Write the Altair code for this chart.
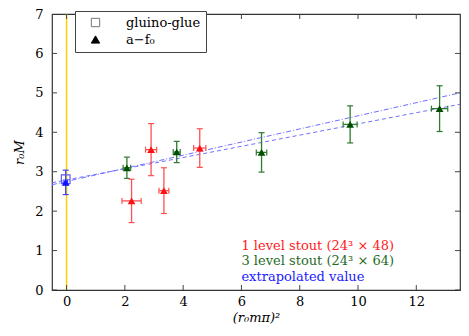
import altair as alt
import pandas as pd

# ---- data ----
red_x = [2.23, 2.90, 3.34, 4.57]
red_xerr = [0.33, 0.19, 0.17, 0.21]
red_y = [2.26, 3.56, 2.52, 3.60]
red_yerr = [0.55, 0.66, 0.58, 0.49]

green_x = [2.07, 3.78, 6.69, 9.73, 12.80]
green_xerr = [0.13, 0.12, 0.18, 0.24, 0.28]
green_y = [3.10, 3.50, 3.49, 4.20, 4.60]
green_yerr = [0.27, 0.27, 0.50, 0.47, 0.58]

blue_x = [-0.03]
blue_xerr = [0.06]
blue_y = [2.73]
blue_yerr = [0.31]

glue_x = [-0.03]
glue_y = [2.81]

fit_x = [-0.5, 13.5]
fit1_y = [2.67, 5.00]
fit2_y = [2.72, 4.71]

x_ticks = [0, 2, 4, 6, 8, 10, 12]
y_ticks = [0, 1, 2, 3, 4, 5, 6, 7]
x_dom = [-0.5, 13.5]
y_dom = [0, 7]

ann_text = ["1 level stout (24³ × 48)", "3 level stout (24³ × 64)", "extrapolated value"]
ann_color = ["#ff2020", "#1f6b1f", "#2020ff"]
ann_x = [6.0, 6.0, 6.0]
ann_y = [1.11, 0.74, 0.33]

legend_labels = ["gluino-glue", "a−f₀"]

FONT = "DejaVu Serif"

# ---- tables ----
rows = []
for xs, xe, ys, ye, mc, bc in [
    (red_x, red_xerr, red_y, red_yerr, "#ff1010", "#ff5050"),
    (green_x, green_xerr, green_y, green_yerr, "#004d00", "#2f7a2f"),
    (blue_x, blue_xerr, blue_y, blue_yerr, "#1010ff", "#4040ff"),
]:
    for x, dx, y, dy in zip(xs, xe, ys, ye):
        rows.append(dict(x=x, y=y, xlo=x - dx, xhi=x + dx, ylo=y - dy, yhi=y + dy,
                         mcol=mc, bcol=bc))
tri = pd.DataFrame(rows)

ycaps = pd.concat([
    tri[["x", "ylo", "bcol"]].rename(columns={"ylo": "y"}),
    tri[["x", "yhi", "bcol"]].rename(columns={"yhi": "y"}),
])
xcaps = pd.concat([
    tri[["xlo", "y", "bcol"]].rename(columns={"xlo": "x"}),
    tri[["xhi", "y", "bcol"]].rename(columns={"xhi": "x"}),
])

glue = pd.DataFrame(dict(x=glue_x, y=glue_y))

# legend-only rows, placed outside the domain and clipped away
leg = pd.DataFrame(dict(particle=legend_labels, x=[x_dom[0] - 5] * 2, y=[y_dom[0] - 5] * 2))

fits = pd.concat([
    pd.DataFrame(dict(x=fit_x, y=fit1_y, fit="a")),
    pd.DataFrame(dict(x=fit_x, y=fit2_y, fit="b")),
])

ann = pd.DataFrame(dict(x=ann_x, y=ann_y, text=ann_text, col=ann_color))

tick_b = pd.DataFrame(dict(x=x_ticks * 2, y=[y_dom[0]] * len(x_ticks) + [y_dom[1]] * len(x_ticks)))
tick_l = pd.DataFrame(dict(y=y_ticks * 2, x=[x_dom[0]] * len(y_ticks) + [x_dom[1]] * len(y_ticks)))

# ---- scales / axes ----
xs_ = alt.Scale(domain=x_dom, nice=False, zero=False)
ys_ = alt.Scale(domain=y_dom, nice=False, zero=False)
xaxis = alt.Axis(values=x_ticks, ticks=False, domain=False, grid=False, labelFont=FONT,
                 labelFontSize=13, labelColor="black", labelPadding=5,
                 title="(r₀mπ)²", titleFont=FONT, titleFontSize=13, titleFontStyle="italic",
                 titleFontWeight="normal", titleColor="black", titlePadding=3)
yaxis = alt.Axis(values=y_ticks, ticks=False, domain=False, grid=False, labelFont=FONT,
                 labelFontSize=13, labelColor="black", labelPadding=9,
                 title="r₀M", titleFont=FONT, titleFontSize=13, titleFontStyle="italic",
                 titleFontWeight="normal", titleColor="black", titlePadding=8)


def X(f="x"):
    return alt.X(f"{f}:Q", scale=xs_, axis=xaxis)


def Y(f="y"):
    return alt.Y(f"{f}:Q", scale=ys_, axis=yaxis)


legend = alt.Legend(
    title=None, orient="none", legendX=23, legendY=-3,
    labelFont=FONT, labelFontSize=13, labelColor="black",
    labelExpr="datum.label + '    '",
    symbolSize=70, symbolOffset=9, labelOffset=24, rowPadding=3,
    padding=5, strokeColor="#444", fillColor="white", symbolStrokeWidth=1,
)

yellow = alt.Chart(pd.DataFrame(dict(x=[0], y=[y_dom[0]], y2=[y_dom[1]]))).mark_rule(
    color="#ffd000", strokeWidth=1.5).encode(x=X(), y=Y(), y2="y2:Q")

fit_a = alt.Chart(fits[fits.fit == "a"]).mark_line(
    color="#6f6fff", strokeWidth=1, strokeDash=[5, 2, 1, 2]).encode(x=X(), y=Y())
fit_b = alt.Chart(fits[fits.fit == "b"]).mark_line(
    color="#6f6fff", strokeWidth=1, strokeDash=[4, 3]).encode(x=X(), y=Y())

ybars = alt.Chart(tri).mark_rule(strokeWidth=1.3).encode(
    x=X(), y=Y("ylo"), y2="yhi:Q", color=alt.Color("bcol:N", scale=None))
xbars = alt.Chart(tri).mark_rule(strokeWidth=1.3).encode(
    y=Y(), x=X("xlo"), x2="xhi:Q", color=alt.Color("bcol:N", scale=None))
ycap = alt.Chart(ycaps).mark_tick(orient="horizontal", size=6, thickness=1.2, opacity=1).encode(
    x=X(), y=Y(), color=alt.Color("bcol:N", scale=None))
xcap = alt.Chart(xcaps).mark_tick(orient="vertical", size=6, thickness=1.2, opacity=1).encode(
    x=X(), y=Y(), color=alt.Color("bcol:N", scale=None))

glue_pts = alt.Chart(glue).mark_point(shape="square", filled=False, size=75, strokeWidth=1.2,
                                      opacity=1, color="#5a5aff").encode(x=X(), y=Y())
tri_pts = alt.Chart(tri).mark_point(shape="triangle-up", filled=True, size=60, opacity=1).encode(
    x=X(), y=Y(), fill=alt.Fill("mcol:N", scale=None))

leg_pts = alt.Chart(leg).mark_point(clip=True, opacity=1, strokeWidth=1, size=70).encode(
    x=X(), y=Y(),
    shape=alt.Shape("particle:N", scale=alt.Scale(domain=legend_labels, range=["square", "triangle-up"]),
                    legend=legend),
    fill=alt.Fill("particle:N", scale=alt.Scale(domain=legend_labels, range=["transparent", "black"]),
                  legend=legend),
    stroke=alt.Stroke("particle:N", scale=alt.Scale(domain=legend_labels, range=["#777777", "black"]),
                      legend=legend),
)

tb = alt.Chart(tick_b).mark_tick(orient="vertical", size=10, thickness=1, color="#444",
                                 clip=True, opacity=1).encode(x=X(), y=Y())
tl = alt.Chart(tick_l).mark_tick(orient="horizontal", size=10, thickness=1, color="#444",
                                 clip=True, opacity=1).encode(x=X(), y=Y())

texts = alt.Chart(ann).mark_text(align="left", baseline="middle", font=FONT, fontSize=13).encode(
    x=X(), y=Y(), text="text:N", color=alt.Color("col:N", scale=None))

chart = alt.layer(yellow, fit_a, fit_b, ybars, xbars, ycap, xcap, glue_pts, tri_pts, leg_pts,
                  tb, tl, texts).properties(
    width=408, height=276,
    autosize=alt.AutoSizeParams(type="none"),
    padding={"left": 44, "top": 6, "right": 1, "bottom": 37},
).configure_view(stroke="#333", strokeWidth=1.2)

chart.save("out.html", embed_options={"renderer": "svg", "actions": False})
